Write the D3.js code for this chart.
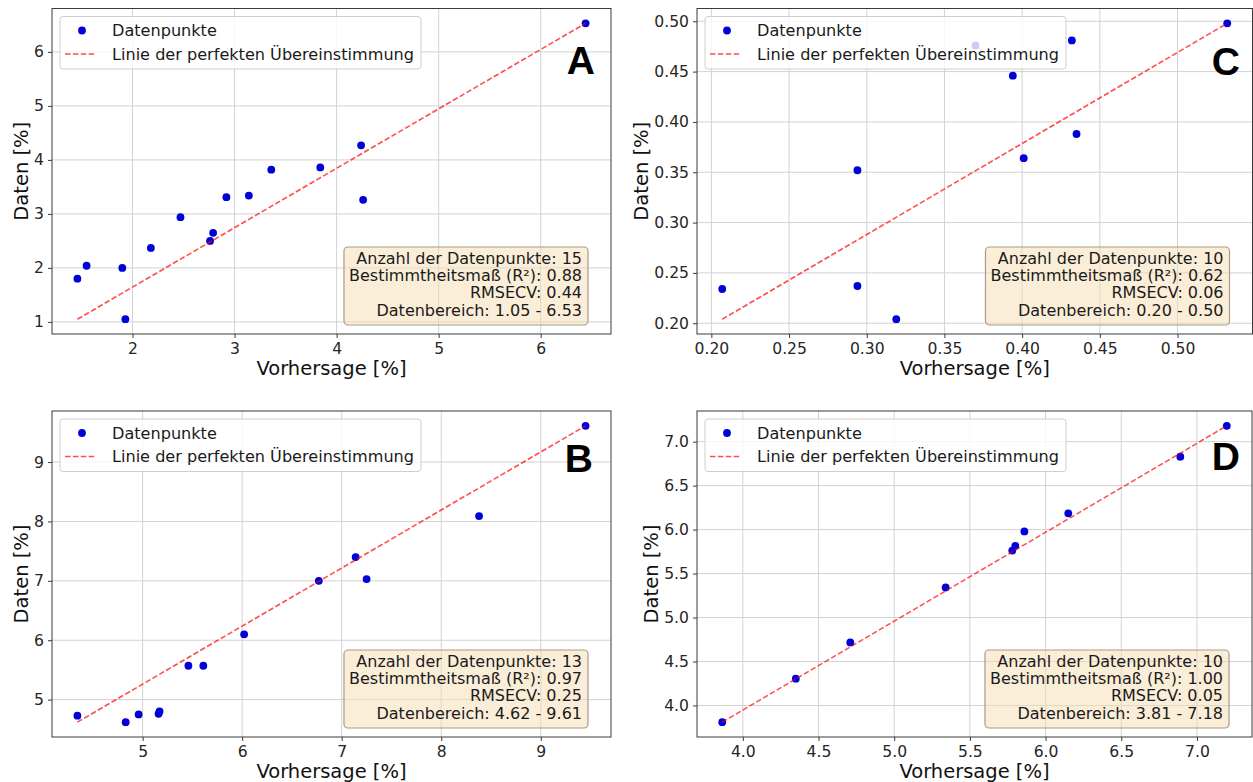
<!DOCTYPE html>
<html><head><meta charset="utf-8">
<script src="https://cdn.jsdelivr.net/npm/d3@7"></script>
<style>
body{margin:0;background:#fff;}
svg{display:block;font-family:"DejaVu Sans",sans-serif;}
</style></head><body>
<svg id="chart" width="1253" height="782"></svg>
<script>
// ---- data ----
const predA = [1.46,1.55,1.90,1.93,2.18,2.47,2.76,2.79,2.92,3.14,3.36,3.84,4.24,4.26,6.44];
const dataA = [1.80,2.04,2.00,1.05,2.37,2.94,2.50,2.65,3.31,3.34,3.82,3.86,4.27,3.26,6.53];
const predB = [4.345,4.83,4.96,5.16,5.17,5.46,5.61,6.02,6.77,7.14,7.25,8.38,9.45];
const dataB = [4.73,4.62,4.75,4.76,4.80,5.57,5.57,6.10,7.00,7.40,7.03,8.09,9.61];
const predC = [0.207,0.294,0.294,0.319,0.370,0.394,0.401,0.432,0.435,0.532];
const dataC = [0.234,0.237,0.352,0.204,0.476,0.446,0.364,0.481,0.388,0.498];
const predD = [3.864,4.35,4.71,5.34,5.78,5.80,5.86,6.15,6.89,7.197];
const dataD = [3.81,4.305,4.717,5.342,5.761,5.815,5.979,6.185,6.829,7.18];

const xTicksA = [2,3,4,5,6], yTicksA = [1,2,3,4,5,6];
const xTicksB = [5,6,7,8,9], yTicksB = [5,6,7,8,9];
const xTicksC = [0.20,0.25,0.30,0.35,0.40,0.45,0.50], yTicksC = [0.20,0.25,0.30,0.35,0.40,0.45,0.50];
const xTicksD = [4.0,4.5,5.0,5.5,6.0,6.5,7.0], yTicksD = [4.0,4.5,5.0,5.5,6.0,6.5,7.0];

const statsA = ["Anzahl der Datenpunkte: 15","Bestimmtheitsmaß (R²): 0.88","RMSECV: 0.44","Datenbereich: 1.05 - 6.53"];
const statsB = ["Anzahl der Datenpunkte: 13","Bestimmtheitsmaß (R²): 0.97","RMSECV: 0.25","Datenbereich: 4.62 - 9.61"];
const statsC = ["Anzahl der Datenpunkte: 10","Bestimmtheitsmaß (R²): 0.62","RMSECV: 0.06","Datenbereich: 0.20 - 0.50"];
const statsD = ["Anzahl der Datenpunkte: 10","Bestimmtheitsmaß (R²): 1.00","RMSECV: 0.05","Datenbereich: 3.81 - 7.18"];

const legendLabels = ["Datenpunkte","Linie der perfekten Übereinstimmung"];
const xLabel = "Vorhersage [%]", yLabel = "Daten [%]";

// ---- layout ----
const panels = [
  {letter:"A", pred:predA, data:dataA, xt:xTicksA, yt:yTicksA, stats:statsA, fmt:"d",   box:[52,8.5,611,334],  lx:16, ly:65.5},
  {letter:"C", pred:predC, data:dataC, xt:xTicksC, yt:yTicksC, stats:statsC, fmt:".2f", box:[697,8.5,1252.5,334], lx:12.5, ly:66.5},
  {letter:"B", pred:predB, data:dataB, xt:xTicksB, yt:yTicksB, stats:statsB, fmt:"d",   box:[52,411,611,737], lx:18, ly:61},
  {letter:"D", pred:predD, data:dataD, xt:xTicksD, yt:yTicksD, stats:statsD, fmt:".1f", box:[697,411,1252,737], lx:12, ly:59}
];

const svg = d3.select("#chart");
const DOT = "#0000d8", GRID = "#d2d2d2", SPINE = "#3a3a3a";

panels.forEach(p => {
  const [L,T,R,B] = p.box;
  const w = R - L, h = B - T;
  const g = svg.append("g").attr("transform", `translate(${L},${T})`);
  const [x0,x1] = d3.extent(p.pred), [y0,y1] = d3.extent(p.data);
  const mx = (x1-x0)*0.05, my = (y1-y0)*0.05;
  const x = d3.scaleLinear().domain([x0-mx, x1+mx]).range([0,w]);
  const y = d3.scaleLinear().domain([y0-my, y1+my]).range([h,0]);

  // grid
  g.append("g").selectAll("line").data(p.xt).join("line")
    .attr("x1",d=>x(d)).attr("x2",d=>x(d)).attr("y1",0).attr("y2",h)
    .attr("stroke",GRID).attr("stroke-width",1);
  g.append("g").selectAll("line").data(p.yt).join("line")
    .attr("y1",d=>y(d)).attr("y2",d=>y(d)).attr("x1",0).attr("x2",w)
    .attr("stroke",GRID).attr("stroke-width",1);

  // points
  g.append("g").selectAll("circle").data(d3.zip(p.pred,p.data)).join("circle")
    .attr("cx",d=>x(d[0])).attr("cy",d=>y(d[1])).attr("r",3.9).attr("fill",DOT);

  // line of perfect agreement (min -> max)
  g.append("line")
    .attr("x1",x(x0)).attr("y1",y(y0)).attr("x2",x(x1)).attr("y2",y(y1))
    .attr("stroke","red").attr("stroke-opacity",0.7).attr("stroke-width",1.6)
    .attr("stroke-dasharray","5.5,2.4");

  // axes
  const fmt = d3.format(p.fmt);
  const xa = g.append("g").attr("transform",`translate(0,${h})`)
    .call(d3.axisBottom(x).tickValues(p.xt).tickFormat(fmt).tickSize(4).tickPadding(5));
  const ya = g.append("g")
    .call(d3.axisLeft(y).tickValues(p.yt).tickFormat(fmt).tickSize(4).tickPadding(4));
  [xa,ya].forEach(a => {
    a.select(".domain").remove();
    a.selectAll(".tick line").attr("stroke",SPINE);
    a.selectAll(".tick text").attr("fill","#262626").style("font-size","15.6px").style("font-family","DejaVu Sans");
  });

  // spines
  g.append("rect").attr("x",0).attr("y",0).attr("width",w).attr("height",h)
    .attr("fill","none").attr("stroke",SPINE).attr("stroke-width",1);

  // axis labels
  g.append("text").attr("x",w/2).attr("y",h+40.5).attr("text-anchor","middle")
    .style("font-size","19.5px").attr("fill","#111").text(xLabel);
  const yw = ya.node().getBBox().width;
  g.append("text").attr("transform",`translate(${-(yw+6)},${h/2}) rotate(-90)`)
    .attr("text-anchor","middle").style("font-size","19.5px").attr("fill","#111").text(yLabel);

  // legend
  const lg = g.append("g").attr("transform","translate(8,8)");
  const lrect = lg.append("rect").attr("rx",3).attr("ry",3)
    .attr("fill","#fff").attr("fill-opacity",0.8).attr("stroke","#cfcfcf").attr("stroke-width",1);
  lg.append("circle").attr("cx",22).attr("cy",14).attr("r",3.9).attr("fill",DOT);
  lg.append("line").attr("x1",5).attr("x2",36).attr("y1",37.5).attr("y2",37.5)
    .attr("stroke","red").attr("stroke-opacity",0.7).attr("stroke-width",1.6).attr("stroke-dasharray","5.5,2.4");
  const lt = lg.selectAll("text.lt").data(legendLabels).join("text").attr("class","lt")
    .attr("x",52).attr("y",(d,i)=>[14,37.5][i]+5.7).style("font-size","16.1px").attr("fill","#1a1a1a").text(d=>d);
  let lw = 0; lt.each(function(){ lw = Math.max(lw, this.getComputedTextLength()); });
  lrect.attr("x",0).attr("y",0).attr("width",52+lw+7).attr("height",52.5);

  // stats box
  const sg = g.append("g");
  const srect = sg.append("rect").attr("rx",4).attr("ry",4)
    .attr("fill","#f5deb3").attr("fill-opacity",0.5).attr("stroke","#a89c88").attr("stroke-width",1.2);
  const bRight = w - 23, bBottom = h - 9, bTop = bBottom - 78;
  const st = sg.selectAll("text").data(p.stats).join("text")
    .attr("x",bRight-6).attr("y",(d,i)=>bTop+17+i*17.2).attr("text-anchor","end")
    .style("font-size","16px").attr("fill","#1a1a1a").text(d=>d);
  let sw = 0; st.each(function(){ sw = Math.max(sw, this.getComputedTextLength()); });
  srect.attr("x",bRight-sw-11).attr("y",bTop).attr("width",sw+11).attr("height",78);

  // panel letter
  g.append("text").attr("x",w-p.lx).attr("y",p.ly).attr("text-anchor","end")
    .style("font-family","'Liberation Sans',Arial,sans-serif").style("font-weight","bold")
    .style("font-size","39px").attr("fill","#000").text(p.letter);
});
</script>
</body></html>
